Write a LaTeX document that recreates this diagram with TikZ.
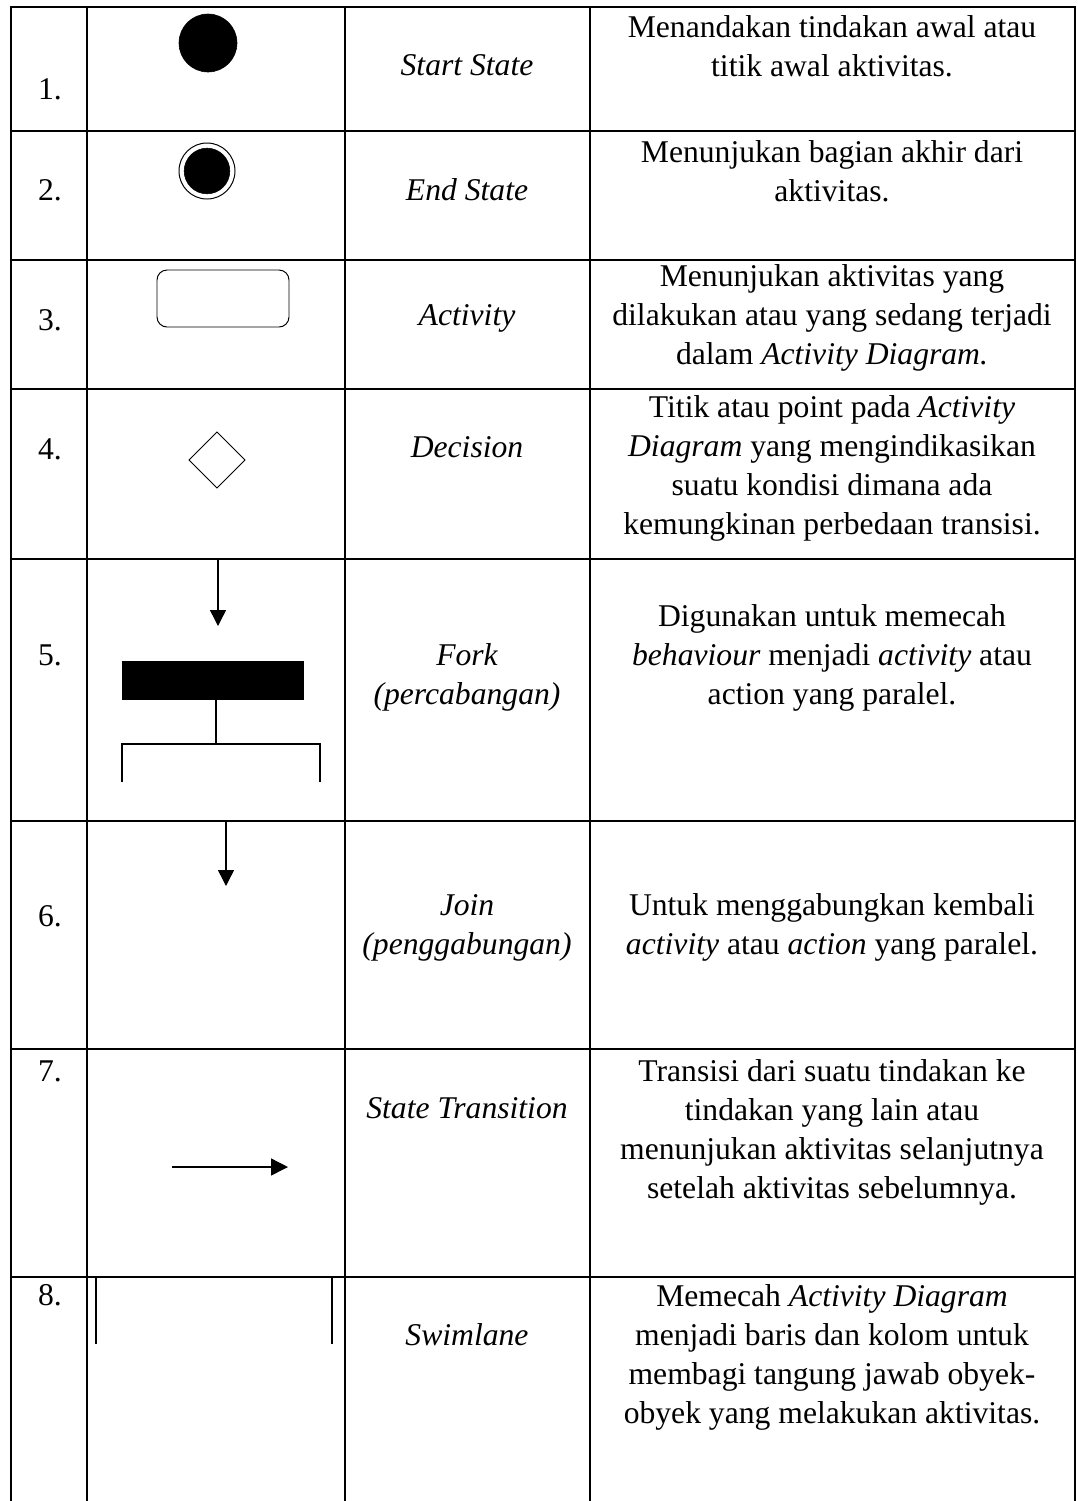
\documentclass[tikz,border=0pt]{standalone}
\usepackage{fontspec}
\setmainfont{Liberation Serif}
\usepackage{xcolor}
\usetikzlibrary{arrows.meta}
\definecolor{tblack}{HTML}{000000}
\tikzset{
	tabline/.style={color=tblack, line width=2.1pt, line cap=rect},
	thinline/.style={color=tblack, line width=0.7pt},
	flowline/.style={color=tblack, line width=1pt},
	numtext/.style={font=\fontsize{22.5}{27.7}\selectfont},
	nametext/.style={font=\itshape\fontsize{22.5}{27.7}\selectfont, align=center},
	desctext/.style={font=\fontsize{22.5}{27.7}\selectfont, align=center}
}

\begin{document}
\begin{tikzpicture}[x=0.025cm, y=-0.025cm]
		\useasboundingbox (0,0) rectangle (1078,1501);
		\foreach \x in {11,87,345,590,1075}
			\draw[tabline] (\x,7) -- (\x,1510);
		\foreach \y in {7,131,260,389,559,821,1049,1277}
			\draw[tabline] (11,\y) -- (1075,\y);
		\node[numtext] (N1) at (50,89) {1.};
		\node[numtext] (N2) at (50,190) {2.};
		\node[numtext] (N3) at (50,320) {3.};
		\node[numtext] (N4) at (50,449) {4.};
		\node[numtext] (N5) at (50,655) {5.};
		\node[numtext] (N6) at (50,916) {6.};
		\node[numtext] (N7) at (50,1071) {7.};
		\node[numtext] (N8) at (50,1295) {8.};
		\node[nametext] (S1) at (467,65) {Start State};
		\node[nametext] (S2) at (467,190) {End State};
		\node[nametext] (S3) at (467,318) {Activity};
		\node[nametext] (S4) at (467,447) {Decision};
		\node[nametext] (S5) at (467,677) {Fork\\(percabangan)};
		\node[nametext] (S6) at (467,928) {Join\\(penggabungan)};
		\node[nametext] (S7) at (467,1108) {State Transition};
		\node[nametext] (S8) at (467,1335) {Swimlane};
		\node[desctext] (D1) at (832,46) {Menandakan tindakan awal atau\\titik awal aktivitas.};
		\node[desctext] (D2) at (832,171) {Menunjukan bagian akhir dari\\aktivitas.};
		\node[desctext] (D3) at (832,318) {Menunjukan aktivitas yang\\dilakukan atau yang sedang terjadi\\dalam \textit{Activity Diagram.}};
		\node[desctext] (D4) at (832,468) {Titik atau point pada \textit{Activity}\\\textit{Diagram} yang mengindikasikan\\suatu kondisi dimana ada\\kemungkinan perbedaan transisi.};
		\node[desctext] (D5) at (832,658) {Digunakan untuk memecah\\\textit{behaviour} menjadi \textit{activity} atau\\action yang paralel.};
		\node[desctext] (D6) at (832,927) {Untuk menggabungkan kembali\\\textit{activity} atau \textit{action} yang paralel.};
		\node[desctext] (D7) at (832,1132) {Transisi dari suatu tindakan ke\\tindakan yang lain atau\\menunjukan aktivitas selanjutnya\\setelah aktivitas sebelumnya.};
		\node[desctext] (D8) at (832,1357) {Memecah \textit{Activity Diagram}\\menjadi baris dan kolom untuk\\membagi tangung jawab obyek-\\obyek yang melakukan aktivitas.};
		\draw[color=tblack, fill=tblack] (208,43) circle (0.725cm);
		\draw[thinline] (207,171) circle (0.7cm);
		\draw[color=tblack, fill=tblack] (207,171) circle (0.57cm);
		\draw[thinline, rounded corners=0.25cm] (157,270) rectangle (289,327);
		\draw[thinline] (217,432) -- (245,460) -- (217,488) -- (189,460) -- cycle;
		\coordinate (A) at (218,559);
		\coordinate (B) at (218,626);
		\coordinate (C) at (216,700);
		\coordinate (D) at (216,744);
		\coordinate (E) at (226,821);
		\coordinate (F) at (226,886);
		\coordinate (G) at (172,1167);
		\coordinate (H) at (288,1167);
		\draw[flowline, -{Triangle[length=0.4cm, width=0.4cm]}] (A) -- (B);
		\fill[color=tblack] (122,661) rectangle (304,700);
		\draw[color=tblack, line width=1.4pt] (C) -- (D);
		\draw[color=tblack, line width=1.4pt] (122,782) -- (122,744) -- (320,744) -- (320,782);
		\draw[flowline, -{Triangle[length=0.4cm, width=0.4cm]}] (E) -- (F);
		\draw[flowline, -{Triangle[length=0.42cm, width=0.42cm]}] (G) -- (H);
		\draw[color=tblack, line width=1.4pt] (96,1277) -- (96,1344);
		\draw[color=tblack, line width=1.4pt] (332,1277) -- (332,1344);
	\end{tikzpicture}
\end{document}
